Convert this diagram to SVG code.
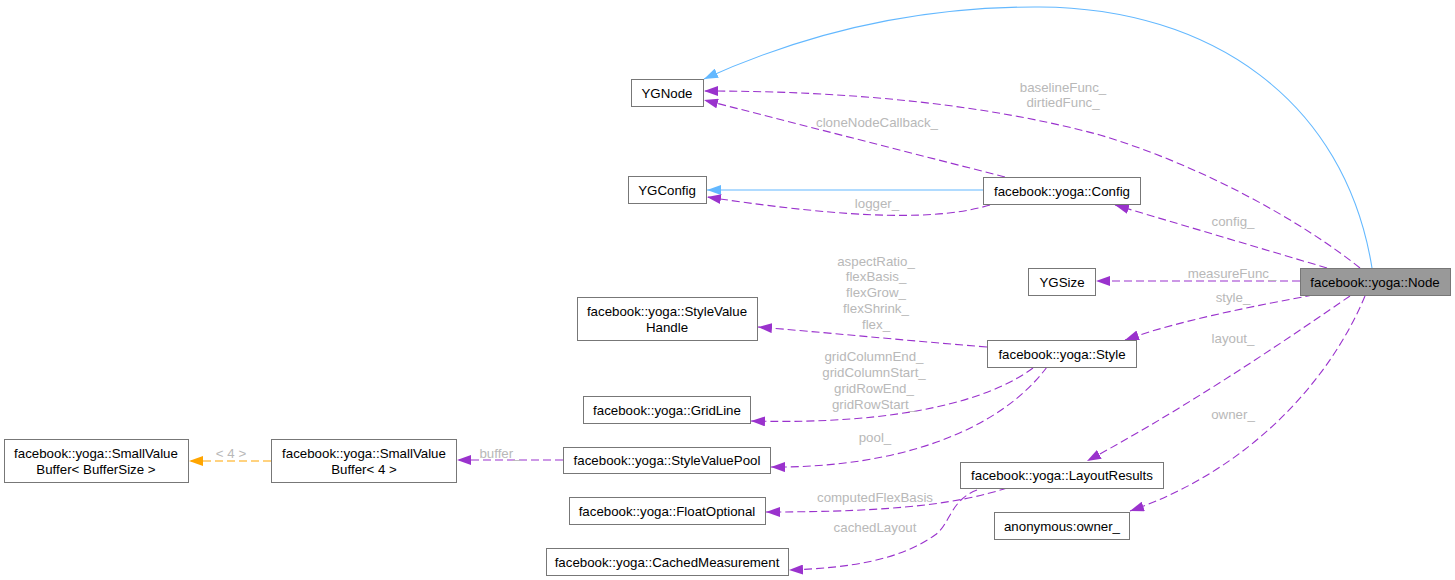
<svg xmlns="http://www.w3.org/2000/svg" width="1455" height="580" viewBox="0 0 1455 580">
<style>
.nb{fill:#ffffff;stroke:#777777;stroke-width:1}
.nm{fill:#999999;stroke:#777777;stroke-width:1}
.nt{font-family:"Liberation Sans",Arial,sans-serif;font-size:13.3px;fill:#000000;text-anchor:middle}
.lt{font-family:"Liberation Sans",Arial,sans-serif;font-size:13.3px;fill:#b8b8b8;text-anchor:middle}
.ep{fill:none;stroke:#9a32cd;stroke-width:1.1;stroke-dasharray:8,4}
.ei{fill:none;stroke:#63b8ff;stroke-width:1.1}
.et{fill:none;stroke:#ffa500;stroke-width:1.1;stroke-dasharray:8,4}
</style>
<defs>
<marker id="ap" markerUnits="userSpaceOnUse" markerWidth="14" markerHeight="10" refX="14" refY="5" orient="auto"><path d="M0,0 L14,5 L0,10 z" fill="#9a32cd"/></marker>
<marker id="ai" markerUnits="userSpaceOnUse" markerWidth="14" markerHeight="10" refX="14" refY="5" orient="auto"><path d="M0,0 L14,5 L0,10 z" fill="#63b8ff"/></marker>
<marker id="at" markerUnits="userSpaceOnUse" markerWidth="14" markerHeight="10" refX="14" refY="5" orient="auto"><path d="M0,0 L14,5 L0,10 z" fill="#ffa500"/></marker>
</defs>
<rect width="1455" height="580" fill="#ffffff"/>
<g id="connectors">
<path class="ei" d="M1372,268 C1345,100 1210,8 1040,7 C900,6 790,40 704,79" marker-end="url(#ai)"/>
<path class="ei" d="M983,190 L707,190" marker-end="url(#ai)"/>
<path class="ep" d="M1005,177 L704,100" marker-end="url(#ap)"/>
<path class="ep" d="M1360,268 C1300,220 1200,165 1100,135 C985,104 850,91 704,91" marker-end="url(#ap)"/>
<path class="ep" d="M990,205 C940,220 860,220 707,197" marker-end="url(#ap)"/>
<path class="ep" d="M1327,268 L1115,205" marker-end="url(#ap)"/>
<path class="ep" d="M1300,281 L1096,281" marker-end="url(#ap)"/>
<path class="ep" d="M1313,295 C1260,305 1180,320 1125,340" marker-end="url(#ap)"/>
<path class="ep" d="M1350,296 C1300,330 1200,400 1087,461" marker-end="url(#ap)"/>
<path class="ep" d="M1365,296 C1330,380 1250,470 1130,511" marker-end="url(#ap)"/>
<path class="ep" d="M987,347 C900,340 820,332 758,327" marker-end="url(#ap)"/>
<path class="ep" d="M1033,368 C990,400 900,425 751,421" marker-end="url(#ap)"/>
<path class="ep" d="M1047,367 C1000,430 900,468 771,467" marker-end="url(#ap)"/>
<path class="ep" d="M563,460 L457,460" marker-end="url(#ap)"/>
<path class="et" d="M271,461 L189,461" marker-end="url(#at)"/>
<path class="ep" d="M1007,488 C960,503 900,512 766,512" marker-end="url(#ap)"/>
<path class="ep" d="M977,490 C950,500 950,525 935,535 C900,560 850,568 789,570" marker-end="url(#ap)"/>
<text class="lt" x="1063" y="92">baselineFunc_</text>
<text class="lt" x="1063" y="107">dirtiedFunc_</text>
<text class="lt" x="877" y="127">cloneNodeCallback_</text>
<text class="lt" x="877" y="208">logger_</text>
<text class="lt" x="1233" y="226">config_</text>
<text class="lt" x="1232" y="278">measureFunc_</text>
<text class="lt" x="1233" y="302">style_</text>
<text class="lt" x="1233" y="343">layout_</text>
<text class="lt" x="1233" y="419">owner_</text>
<text class="lt" x="876" y="266">aspectRatio_</text>
<text class="lt" x="876" y="281">flexBasis_</text>
<text class="lt" x="876" y="297">flexGrow_</text>
<text class="lt" x="876" y="313">flexShrink_</text>
<text class="lt" x="876" y="329">flex_</text>
<text class="lt" x="874" y="361">gridColumnEnd_</text>
<text class="lt" x="874" y="377">gridColumnStart_</text>
<text class="lt" x="874" y="393">gridRowEnd_</text>
<text class="lt" x="874" y="409">gridRowStart_</text>
<text class="lt" x="875" y="442">pool_</text>
<text class="lt" x="500" y="458">buffer_</text>
<text class="lt" x="231" y="458">&lt; 4 &gt;</text>
<text class="lt" x="875" y="502">computedFlexBasis</text>
<text class="lt" x="875" y="532">cachedLayout</text>
</g>
<g id="node-Node"><rect class="nm" x="1300.5" y="268.5" width="150" height="27"/><text class="nt" x="1375" y="286.5">facebook::yoga::Node</text></g>
<g id="node-YGNode"><rect class="nb" x="631.5" y="79.5" width="72" height="27"/><text class="nt" x="667" y="97.5">YGNode</text></g>
<g id="node-YGConfig"><rect class="nb" x="628.5" y="176.5" width="78" height="27"/><text class="nt" x="667" y="194.5">YGConfig</text></g>
<g id="node-Config"><rect class="nb" x="983.5" y="177.5" width="157" height="27"/><text class="nt" x="1062" y="195.5">facebook::yoga::Config</text></g>
<g id="node-YGSize"><rect class="nb" x="1028.5" y="268.5" width="67" height="27"/><text class="nt" x="1062" y="286.5">YGSize</text></g>
<g id="node-StyleValueHandle"><rect class="nb" x="577.5" y="297.5" width="180" height="43"/><text class="nt" x="667" y="316">facebook::yoga::StyleValue</text><text class="nt" x="667" y="331.5">Handle</text></g>
<g id="node-Style"><rect class="nb" x="987.5" y="340.5" width="149" height="27"/><text class="nt" x="1062" y="358.5">facebook::yoga::Style</text></g>
<g id="node-GridLine"><rect class="nb" x="583.5" y="396.5" width="167" height="27"/><text class="nt" x="667" y="414.5">facebook::yoga::GridLine</text></g>
<g id="node-SmallValueBufferT"><rect class="nb" x="4.5" y="439.5" width="184" height="43"/><text class="nt" x="96" y="458">facebook::yoga::SmallValue</text><text class="nt" x="96" y="473.5">Buffer&lt; BufferSize &gt;</text></g>
<g id="node-SmallValueBuffer4"><rect class="nb" x="271.5" y="439.5" width="185" height="43"/><text class="nt" x="364" y="458">facebook::yoga::SmallValue</text><text class="nt" x="364" y="473.5">Buffer&lt; 4 &gt;</text></g>
<g id="node-StyleValuePool"><rect class="nb" x="563.5" y="447.5" width="207" height="26"/><text class="nt" x="667" y="465">facebook::yoga::StyleValuePool</text></g>
<g id="node-LayoutResults"><rect class="nb" x="960.5" y="462.5" width="203" height="26"/><text class="nt" x="1062" y="480">facebook::yoga::LayoutResults</text></g>
<g id="node-FloatOptional"><rect class="nb" x="569.5" y="497.5" width="196" height="27"/><text class="nt" x="667" y="515.5">facebook::yoga::FloatOptional</text></g>
<g id="node-owner"><rect class="nb" x="994.5" y="512.5" width="135" height="27"/><text class="nt" x="1062" y="530.5">anonymous:owner_</text></g>
<g id="node-CachedMeasurement"><rect class="nb" x="546.5" y="548.5" width="242" height="27"/><text class="nt" x="667" y="566.5">facebook::yoga::CachedMeasurement</text></g>
</svg>
